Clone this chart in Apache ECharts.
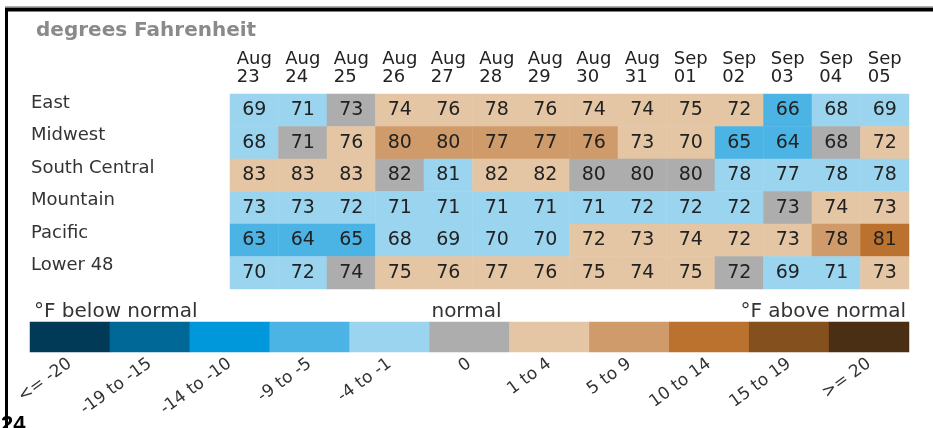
<!DOCTYPE html>
<html>
<head>
<meta charset="utf-8">
<script src="https://cdn.jsdelivr.net/npm/echarts@6/dist/echarts.min.js"></script>
<style>
html,body{margin:0;padding:0;background:#fff;}
#chart{width:933px;height:428px;}
</style>
</head>
<body>
<div id="chart"></div>
<script>
const dates = ['Aug 23','Aug 24','Aug 25','Aug 26','Aug 27','Aug 28','Aug 29','Aug 30','Aug 31','Sep 01','Sep 02','Sep 03','Sep 04','Sep 05'];
const regions = ['East','Midwest','South Central','Mountain','Pacific','Lower 48'];

const eastTemps = [69,71,73,74,76,78,76,74,74,75,72,66,68,69];
const eastDep = [-1,-1,0,1,1,1,1,1,1,1,1,-2,-1,-1];
const midwestTemps = [68,71,76,80,80,77,77,76,73,70,65,64,68,72];
const midwestDep = [-1,0,1,2,2,2,2,2,1,1,-2,-2,0,1];
const southCentralTemps = [83,83,83,82,81,82,82,80,80,80,78,77,78,78];
const southCentralDep = [1,1,1,0,-1,1,1,0,0,0,-1,-1,-1,-1];
const mountainTemps = [73,73,72,71,71,71,71,71,72,72,72,73,74,73];
const mountainDep = [-1,-1,-1,-1,-1,-1,-1,-1,-1,-1,-1,0,1,1];
const pacificTemps = [63,64,65,68,69,70,70,72,73,74,72,73,78,81];
const pacificDep = [-2,-2,-2,-1,-1,-1,-1,1,1,1,1,1,2,3];
const lower48Temps = [70,72,74,75,76,77,76,75,74,75,72,69,71,73];
const lower48Dep = [-1,-1,0,1,1,1,1,1,1,1,0,-1,-1,1];

const legendLabels = ['<= -20','-19 to -15','-14 to -10','-9 to -5','-4 to -1','0','1 to 4','5 to 9','10 to 14','15 to 19','>= 20'];
const legendClasses = [-5,-4,-3,-2,-1,0,1,2,3,4,5];

const palette = ['#003a57','#006896','#0098db','#4bb4e4','#9bd4ee','#adadad','#e4c6a4','#d09b6a','#ba722e','#84501e','#4b2f14'];

const tempRows = [eastTemps, midwestTemps, southCentralTemps, mountainTemps, pacificTemps, lower48Temps];
const depRows = [eastDep, midwestDep, southCentralDep, mountainDep, pacificDep, lower48Dep];

const cellData = [];
tempRows.forEach((row, yi) => {
  row.forEach((t, xi) => cellData.push([xi, yi, t, depRows[yi][xi]]));
});
const legendData = legendClasses.map((c, i) => [i, 0, c]);
const pieces = legendClasses.map((c, i) => ({ value: c, color: palette[i] }));

const FONT = 'DejaVu Sans';
const chart = echarts.init(document.getElementById('chart'), null, { renderer: 'canvas' });
chart.setOption({
  backgroundColor: '#ffffff',
  animation: false,
  title: [
    { text: 'degrees Fahrenheit', left: 31, top: 16, textStyle: { fontFamily: FONT, fontWeight: 'bold', fontSize: 20, color: '#8a8a8a' } },
    { text: '°F below normal', left: 29, top: 297, textStyle: { fontFamily: FONT, fontWeight: 'normal', fontSize: 20, color: '#333' } },
    { text: 'normal', left: 'center', top: 297, textStyle: { fontFamily: FONT, fontWeight: 'normal', fontSize: 20, color: '#333' } },
    { text: '°F above normal', right: 22, top: 297, textStyle: { fontFamily: FONT, fontWeight: 'normal', fontSize: 20, color: '#333' } }
  ],
  grid: [
    { left: 230, top: 94, width: 679, height: 195 },
    { left: 30, top: 322, width: 879, height: 30 }
  ],
  xAxis: [
    {
      gridIndex: 0, type: 'category', data: dates, position: 'top',
      axisLine: { show: false }, axisTick: { show: false }, splitLine: { show: false },
      axisLabel: {
        interval: 0, margin: 8,
        formatter: v => v.split(' ').map(s => '{a|' + s + '}').join('\n'),
        rich: { a: { align: 'left', fontFamily: FONT, fontSize: 18, lineHeight: 18, color: '#222' } }
      }
    },
    {
      gridIndex: 1, type: 'category', data: legendLabels, position: 'bottom',
      axisLine: { show: false }, axisTick: { show: false }, splitLine: { show: false },
      axisLabel: { interval: 0, rotate: 36, margin: 10, fontFamily: FONT, fontSize: 17, color: '#333' }
    }
  ],
  yAxis: [
    {
      gridIndex: 0, type: 'category', data: regions, inverse: true,
      axisLine: { show: false }, axisTick: { show: false }, splitLine: { show: false },
      axisLabel: { interval: 0, align: 'left', verticalAlign: 'bottom', lineHeight: 14, margin: 199, fontFamily: FONT, fontSize: 18, color: '#333' }
    },
    {
      gridIndex: 1, type: 'category', data: ['legend'], show: false
    }
  ],
  visualMap: [
    { type: 'piecewise', show: false, seriesIndex: 0, dimension: 3, pieces: pieces },
    { type: 'piecewise', show: false, seriesIndex: 1, dimension: 2, pieces: pieces }
  ],
  series: [
    {
      type: 'heatmap', xAxisIndex: 0, yAxisIndex: 0, data: cellData,
      label: { show: true, formatter: p => p.value[2], fontFamily: FONT, fontSize: 19, color: '#222' },
      emphasis: { disabled: true }
    },
    {
      type: 'heatmap', xAxisIndex: 1, yAxisIndex: 1, data: legendData,
      label: { show: false }, emphasis: { disabled: true }
    }
  ],
  graphic: [
    { type: 'line', shape: { x1: 5, y1: 6.5, x2: 933, y2: 6.5 }, style: { stroke: '#b0b0b0', lineWidth: 1 } },
    { type: 'line', shape: { x1: 5, y1: 9.5, x2: 933, y2: 9.5 }, style: { stroke: '#000', lineWidth: 4 } },
    { type: 'line', shape: { x1: 6.5, y1: 8, x2: 6.5, y2: 428 }, style: { stroke: '#000', lineWidth: 3 } },
    { type: 'text', left: 1, top: 414, style: { text: '24', fontFamily: 'Liberation Sans', fontWeight: 'bold', fontSize: 22, fill: '#000' } }
  ]
});
</script>
</body>
</html>
